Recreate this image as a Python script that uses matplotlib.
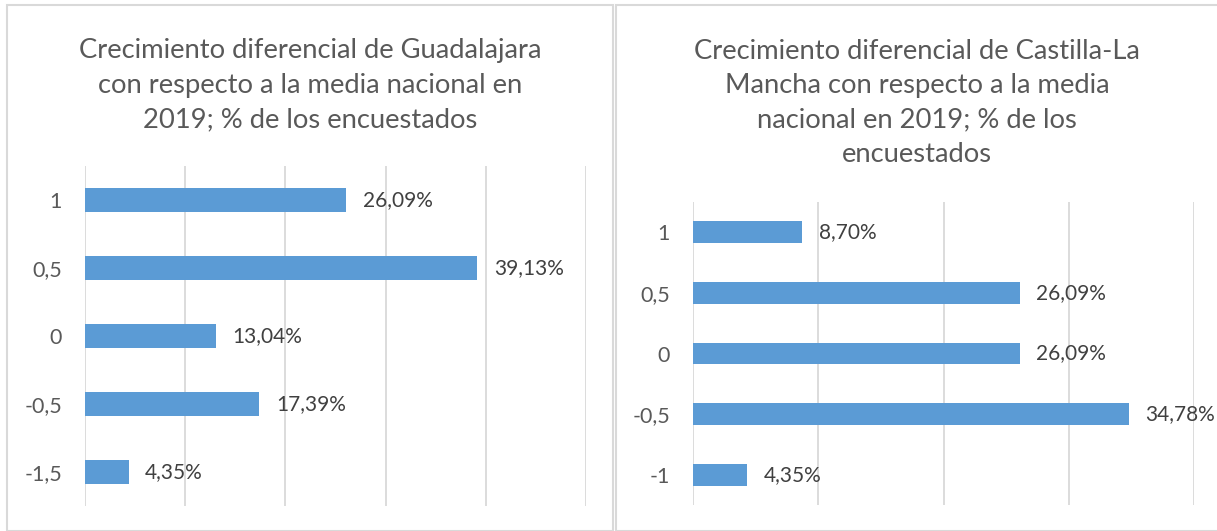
import matplotlib.pyplot as plt
from matplotlib.patches import Rectangle

# data
guada_cats = ["1", "0,5", "0", "-0,5", "-1,5"]
guada_vals = [26.09, 39.13, 13.04, 17.39, 4.35]
clm_cats = ["1", "0,5", "0", "-0,5", "-1"]
clm_vals = [8.70, 26.09, 26.09, 34.78, 4.35]

guada_title = "Crecimiento diferencial de Guadalajara\ncon respecto a la media nacional en\n2019; % de los encuestados"
clm_title = "Crecimiento diferencial de Castilla-La\nMancha con respecto a la media\nnacional en 2019; % de los\nencuestados"

BAR = "#5B9BD5"
GRID = "#D9D9D9"
TXT = "#595959"
LBL = "#404040"

plt.rcParams["font.family"] = ["Lato", "DejaVu Sans"]

W, H = 1217, 531
fig = plt.figure(figsize=(W / 100, H / 100), dpi=100)


def px_axes(x0, y0, x1, y1):
    return fig.add_axes([x0 / W, 1 - y1 / H, (x1 - x0) / W, (y1 - y0) / H])


def draw_panel(ax, cats, vals, xmax, bar_h):
    pos = list(range(len(cats)))
    ax.barh(pos, vals, height=bar_h, color=BAR, zorder=3)
    ax.set_ylim(len(cats) - 0.5, -0.5)
    ax.set_xlim(0, xmax)
    ax.set_xticks(range(0, xmax + 1, 10))
    ax.set_xticklabels([])
    ax.set_yticks(pos)
    ax.set_yticklabels(cats, fontsize=15.5, color=TXT)
    ax.tick_params(axis="both", length=0)
    ax.tick_params(axis="y", pad=16.5)
    ax.grid(axis="x", color=GRID, linewidth=1.3, zorder=0)
    for s in ax.spines.values():
        s.set_visible(False)
    for p, v in zip(pos, vals):
        ax.annotate(f"{v:.2f}%".replace(".", ","), (v, p), xytext=(12, 0),
                    textcoords="offset points", va="center", ha="left",
                    fontsize=15, color=LBL)


# panel borders
fig.patches.append(Rectangle((7 / W, 0), 606 / W, 1 - 5 / H, transform=fig.transFigure,
                             fill=False, edgecolor=GRID, linewidth=1.5))
fig.patches.append(Rectangle((616 / W, 0), 610 / W, 1 - 5 / H, transform=fig.transFigure,
                             fill=False, edgecolor=GRID, linewidth=1.5))

ax1 = px_axes(85, 166, 586, 506)
draw_panel(ax1, guada_cats, guada_vals, 50, 0.35)
ax2 = px_axes(693, 202, 1194, 505)
draw_panel(ax2, clm_cats, clm_vals, 40, 0.36)

fig.text(310 / W, 1 - 85 / H, guada_title, ha="center", va="center",
         fontsize=19.7, color=TXT, linespacing=1.48)
fig.text(917 / W, 1 - 103 / H, clm_title, ha="center", va="center",
         fontsize=19.7, color=TXT, linespacing=1.48)

fig.savefig("out.png", dpi=100, facecolor="white")
